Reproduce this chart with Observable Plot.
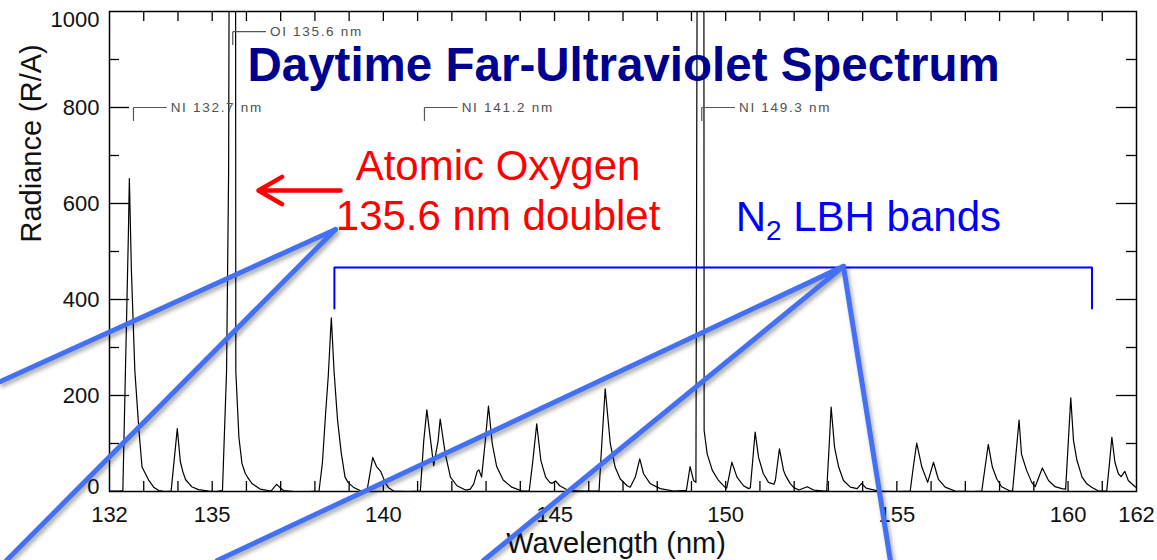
<!DOCTYPE html>
<html>
<head>
<meta charset="utf-8">
<script src="https://cdn.jsdelivr.net/npm/d3@7"></script>
<script src="https://cdn.jsdelivr.net/npm/@observablehq/plot@0.6"></script>
<style>
  html, body { margin: 0; padding: 0; background: #fff; }
  svg { display: block; }
</style>
</head>
<body>
<div id="chart"></div>
<script>
// ---------------- data ----------------
const wavelength = [
  132.00,132.30,132.39,132.55,132.58,132.64,132.74,132.86,132.95,133.05,133.15,133.29,133.44,133.62,
  133.80,133.98,134.07,134.14,134.22,134.40,134.60,134.90,135.10,
  135.30,135.42,135.48,135.51,135.59,135.68,135.69,135.78,135.87,135.97,136.05,136.17,136.40,
  136.72,136.88,136.97,137.08,137.40,137.80,
  138.12,138.22,138.31,138.39,138.48,138.56,138.66,138.77,138.88,138.97,139.12,139.35,
  139.52,139.69,139.80,139.92,140.06,140.15,140.30,140.70,
  141.08,141.18,141.27,141.38,141.47,141.60,141.66,141.81,141.96,142.15,142.40,
  142.54,142.64,142.74,142.79,142.87,142.97,143.07,143.18,143.31,143.50,143.75,144.05,
  144.26,144.36,144.48,144.60,144.74,144.86,144.93,145.03,145.15,145.35,145.70,146.20,
  146.30,146.38,146.48,146.63,146.77,146.92,147.12,
  147.21,147.36,147.49,147.60,147.80,148.09,148.48,148.75,
  148.85,148.96,149.06,149.13,149.18,149.27,149.36,149.37,149.46,149.61,149.79,149.99,
  150.03,150.18,150.33,150.52,150.67,
  150.72,150.79,150.86,150.96,151.10,151.25,151.41,
  151.45,151.57,151.69,151.75,151.88,151.99,152.14,152.38,152.57,152.87,
  152.95,153.02,153.08,153.18,153.30,153.44,153.64,153.84,153.97,154.10,154.46,155.00,
  155.39,155.48,155.58,155.73,155.90,156.07,156.21,156.41,156.70,157.20,
  157.48,157.67,157.79,157.92,158.06,158.31,
  158.38,158.47,158.57,158.64,158.79,158.94,159.04,159.25,159.43,159.62,159.82,159.93,
  160.01,160.08,160.16,160.26,160.41,160.55,160.69,160.89,
  161.13,161.21,161.28,161.37,161.47,161.55,161.66,161.76,161.96,162.00
];
const radiance = [
  1,1,2,530,652,460,252,127,51,37,23,9,2,0,
  1,131,62,42,25,10,4,1,0,
  2,252,669,1500,1600,1500,250,113,58,37,28,16,5,
  1,15,9,2,0,0,
  1,60,160,240,362,250,150,80,30,19,9,1,
  1,71,52,42,18,8,1,0,
  1,106,170,106,54,106,151,78,30,12,3,
  5,16,42,45,30,100,178,100,52,24,9,1,
  1,60,141,65,30,19,17,22,12,4,1,1,
  1,99,214,99,51,26,12,
  9,30,68,37,16,6,1,2,
  2,52,23,19,1500,1600,1500,127,78,44,23,8,
  7,61,30,12,6,
  8,65,124,71,37,19,15,
  23,89,44,33,17,8,3,10,3,1,
  1,92,176,92,51,23,9,6,17,7,1,0,
  1,51,101,51,19,61,26,9,1,0,
  1,98,51,26,10,1,
  1,71,149,78,44,19,10,49,23,10,6,5,
  106,195,106,65,30,16,9,1,
  1,58,113,61,37,31,42,23,10,8
];

const xTickLabels = [132, 135, 140, 145, 150, 155, 160, 162];
const yTickLabels = [0, 200, 400, 600, 800, 1000];
const xMinorTicks = [133,134,135,136,137,138,139,140,141,142,143,144,145,146,147,148,149,150,151,152,153,154,155,156,157,158,159,160,161];
const yMajorTicks = [200, 400, 600, 800];
const yMinorTicks = [100, 300, 500, 700, 900];

const lineIds = ["NI 132.7 nm", "OI 135.6 nm", "NI 141.2 nm", "NI 149.3 nm"];
const lineWavelengths = [132.7, 135.6, 141.2, 149.3];
const lineLevels = [800, 958, 800, 800];

const lbhRange = [138.57, 160.70];

const titleText = "Daytime Far-Ultraviolet Spectrum";
const oxygenText = ["Atomic Oxygen", "135.6 nm doublet"];
const lbhText = "N2 LBH bands";
const xLabel = "Wavelength (nm)";
const yLabel = "Radiance (R/A)";

// ---------------- layout ----------------
const W = 1157, H = 560, mL = 109, mR = 21, mT = 11, mB = 69;
const fw = W - mL - mR, fh = H - mT - mB;
const FONT = "Arial, 'Liberation Sans', Helvetica, sans-serif";
const CALLOUT = "#4470F4";

const spectrum = wavelength.map((w, i) => ({w, r: radiance[i]}));
const lineTable = lineIds.map((t, i) => ({t, w: lineWavelengths[i], lv: lineLevels[i]}));
const bracketStub = 28;   // radiance units for label bracket stubs
const bracketLen = 0.97;  // nm

// callout lines (annotation, in data units)
const oxApex = {w: 138.60, r: 546};
const lbhApex = {w: 153.44, r: 469};
const callouts = [
  {x1: oxApex.w, y1: oxApex.r, x2: 128.816, y2: 229},
  {x1: oxApex.w, y1: oxApex.r, x2: 128.99, y2: -143.75},
  {x1: lbhApex.w, y1: lbhApex.r, x2: 135.15, y2: -143.75},
  {x1: lbhApex.w, y1: lbhApex.r, x2: 142.925, y2: -143.75},
  {x1: lbhApex.w, y1: lbhApex.r, x2: 154.81, y2: -143.75}
];

const tickStyle = {stroke: "black", strokeWidth: 1.3};

const chart = Plot.plot({
  width: W, height: H,
  marginLeft: mL, marginRight: mR, marginTop: mT, marginBottom: mB,
  style: {fontFamily: FONT, background: "white"},
  x: {domain: [132, 162], axis: null},
  y: {domain: [0, 1000], axis: null},
  marks: [
    // spectrum
    Plot.line(spectrum, {x: "w", y: "r", stroke: "black", strokeWidth: 1.2, clip: true}),
    // frame & ticks (inward)
    Plot.frame({stroke: "black", strokeWidth: 1.5}),
    Plot.ruleX(xMinorTicks, {x: d => d, insetTop: fh - 10, ...tickStyle}),
    Plot.ruleX(xMinorTicks, {x: d => d, insetBottom: fh - 10, ...tickStyle}),
    Plot.ruleY(yMajorTicks, {y: d => d, insetRight: fw - 20, ...tickStyle}),
    Plot.ruleY(yMajorTicks, {y: d => d, insetLeft: fw - 20, ...tickStyle}),
    Plot.ruleY(yMinorTicks, {y: d => d, insetRight: fw - 10, ...tickStyle}),
    Plot.ruleY(yMinorTicks, {y: d => d, insetLeft: fw - 10, ...tickStyle}),
    // tick labels
    Plot.text(xTickLabels, {x: d => d, text: d => String(d), frameAnchor: "bottom", lineAnchor: "top", dy: 15, fontSize: 22, fill: "#111"}),
    Plot.text(yTickLabels, {filter: d => d > 0 && d < 1000, y: d => d, text: d => String(d), frameAnchor: "left", textAnchor: "end", lineAnchor: "middle", dx: -10, fontSize: 22, fill: "#111"}),
    Plot.text(yTickLabels, {filter: d => d === 1000, y: d => d, text: d => String(d), frameAnchor: "left", textAnchor: "end", lineAnchor: "middle", dx: -10, dy: 8, fontSize: 22, fill: "#111"}),
    Plot.text(yTickLabels, {filter: d => d === 0, y: d => d, text: d => String(d), frameAnchor: "left", textAnchor: "end", lineAnchor: "middle", dx: -10, dy: -5, fontSize: 22, fill: "#111"}),
    // axis titles
    Plot.text([xLabel], {text: d => d, frameAnchor: "bottom", lineAnchor: "bottom", dx: -7, dy: 61, fontSize: 29, fill: "#111"}),
    Plot.text([yLabel], {text: d => d, frameAnchor: "left", rotate: -90, lineAnchor: "bottom", dx: -69, dy: -9, fontSize: 29, fill: "#111"}),
    // emission line labels with brackets
    Plot.link(lineTable, {x1: "w", x2: "w", y1: "lv", y2: d => d.lv - bracketStub, stroke: "#555", strokeWidth: 1.2}),
    Plot.link(lineTable, {x1: "w", x2: d => d.w + bracketLen, y1: "lv", y2: "lv", stroke: "#555", strokeWidth: 1.2}),
    Plot.text(lineTable, {x: d => d.w + bracketLen, y: "lv", text: "t", textAnchor: "start", lineAnchor: "middle", dx: 4, fontSize: 13.5, fill: "#505050"}),
    // title
    Plot.text([titleText], {x: () => 136.03, y: () => 856, text: d => d, textAnchor: "start", lineAnchor: "bottom", fontSize: 47.5, fontWeight: "bold", fill: "#000090"}),
    // atomic oxygen annotation
    Plot.text(oxygenText, {x: () => 143.35, y: (d, i) => i === 0 ? 650 : 544, text: d => d, textAnchor: "middle", lineAnchor: "bottom", fontSize: 42, fill: "#FF0000"}),
    Plot.arrow([{x1: 138.75, x2: 136.35, y: 627}], {x1: "x1", x2: "x2", y1: "y", y2: "y", stroke: "#FF0000", strokeWidth: 4.5, headLength: 20, headAngle: 60}),
    // LBH bracket and label
    Plot.line([[lbhRange[0], 381], [lbhRange[0], 466.7], [lbhRange[1], 466.7], [lbhRange[1], 381]], {x: d => d[0], y: d => d[1], stroke: "#0000FF", strokeWidth: 2}),
    Plot.text([lbhText], {x: () => 150.29, y: () => 541.7, text: d => d, textAnchor: "start", lineAnchor: "bottom", fontSize: 42, fill: "#0000FF"}),
    // light blue callout lines
    Plot.link(callouts, {x1: "x1", y1: "y1", x2: "x2", y2: "y2", stroke: CALLOUT, strokeWidth: 5, strokeLinecap: "round"})
  ]
});

document.getElementById("chart").appendChild(chart);

// small typographic touches (post-render)
const svg = d3.select(chart);
svg.selectAll("text")
  .filter(function () { return lineIds.includes(this.textContent); })
  .style("letter-spacing", "1.7px");
svg.selectAll("g")
  .filter(function () { return (this.getAttribute("stroke") || "").toLowerCase() === CALLOUT.toLowerCase(); })
  .style("filter", "drop-shadow(2px 3px 2px rgba(0,0,0,0.35))");
svg.selectAll("text")
  .filter(function () { return this.textContent === lbhText; })
  .each(function () {
    const t = d3.select(this);
    t.text(null);
    t.append("tspan").text("N");
    t.append("tspan").attr("dy", 9).attr("font-size", 28).text("2");
    t.append("tspan").attr("dy", -9).text(" LBH bands");
  });
</script>
</body>
</html>
